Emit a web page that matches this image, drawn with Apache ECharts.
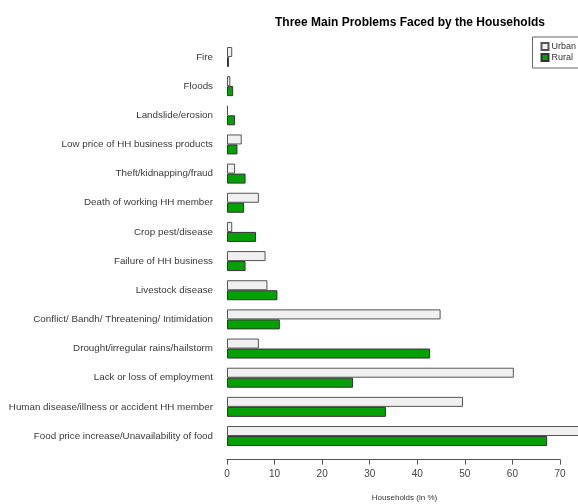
<!DOCTYPE html>
<html><head><meta charset="utf-8">
<script src="https://cdn.jsdelivr.net/npm/echarts@6/dist/echarts.min.js"></script>
<style>html,body{margin:0;padding:0;background:#fff}#c{width:578px;height:504px}</style>
</head><body><div id="c"></div>
<script>
const categories = ["Fire","Floods","Landslide/erosion","Low price of HH business products","Theft/kidnapping/fraud","Death of working HH member","Crop pest/disease","Failure of HH business","Livestock disease","Conflict/ Bandh/ Threatening/ Intimidation","Drought/irregular rains/hailstorm","Lack or loss of employment","Human disease/illness or accident HH member","Food price increase/Unavailability of food"];
const urban = [1.1,0.7,0.2,3.1,1.7,6.7,1.1,8.1,8.5,44.9,6.7,60.3,49.6,76];
const rural = [0.4,1.3,1.7,2.2,3.9,3.6,6.1,3.9,10.6,11.1,42.7,26.5,33.4,67.3];
const xTicks = [0,10,20,30,40,50,60,70];

const chart = echarts.init(document.getElementById('c'));
const font = 'Liberation Sans';
chart.setOption({
  animation:false,
  title:{text:'Three Main Problems Faced by the Households',left:405,top:12,textAlign:'center',
    textStyle:{fontFamily:font,fontSize:12,fontWeight:'bold',color:'#000'}},
  legend:{right:-10,top:37,orient:'vertical',itemWidth:7,itemHeight:7,itemGap:2,
    borderColor:'#666',borderWidth:1,padding:[5,12,6,8],
    textStyle:{fontFamily:font,fontSize:9,color:'#333',padding:[0,0,0,-2]},
    data:[{name:'Urban',icon:'rect'},{name:'Rural',icon:'rect'}]},
  grid:{left:227,right:18,top:42.4,bottom:53.4,containLabel:false,outerBoundsMode:'none'},
  xAxis:{type:'value',min:0,max:70,interval:10,offset:9,
    axisLine:{show:true,lineStyle:{color:'#555',width:1}},
    axisTick:{show:true,length:5,lineStyle:{color:'#555'}},
    splitLine:{show:false},
    axisLabel:{fontFamily:font,fontSize:10,color:'#444',margin:10,
      formatter:function(v){return xTicks.indexOf(v)>=0?String(v):'';}},
    name:'Households (in %)',nameLocation:'middle',nameGap:34,
    nameTextStyle:{fontFamily:font,fontSize:8,color:'#333',padding:[0,0,0,22]}},
  yAxis:{type:'category',data:categories,inverse:true,
    axisLine:{show:false},axisTick:{show:false},
    axisLabel:{fontFamily:font,fontSize:9.8,color:'#3a3a3a',margin:14}},
  series:[
    {name:'Urban',type:'bar',data:urban,barWidth:10,barGap:'0%',clip:false,
      itemStyle:{color:'#f0f0f0',borderColor:'#555',borderWidth:1}},
    {name:'Rural',type:'bar',data:rural,barWidth:10,barGap:'0%',clip:false,
      itemStyle:{color:'#05a005',borderColor:'#333',borderWidth:1}}
  ]
});
</script></body></html>
